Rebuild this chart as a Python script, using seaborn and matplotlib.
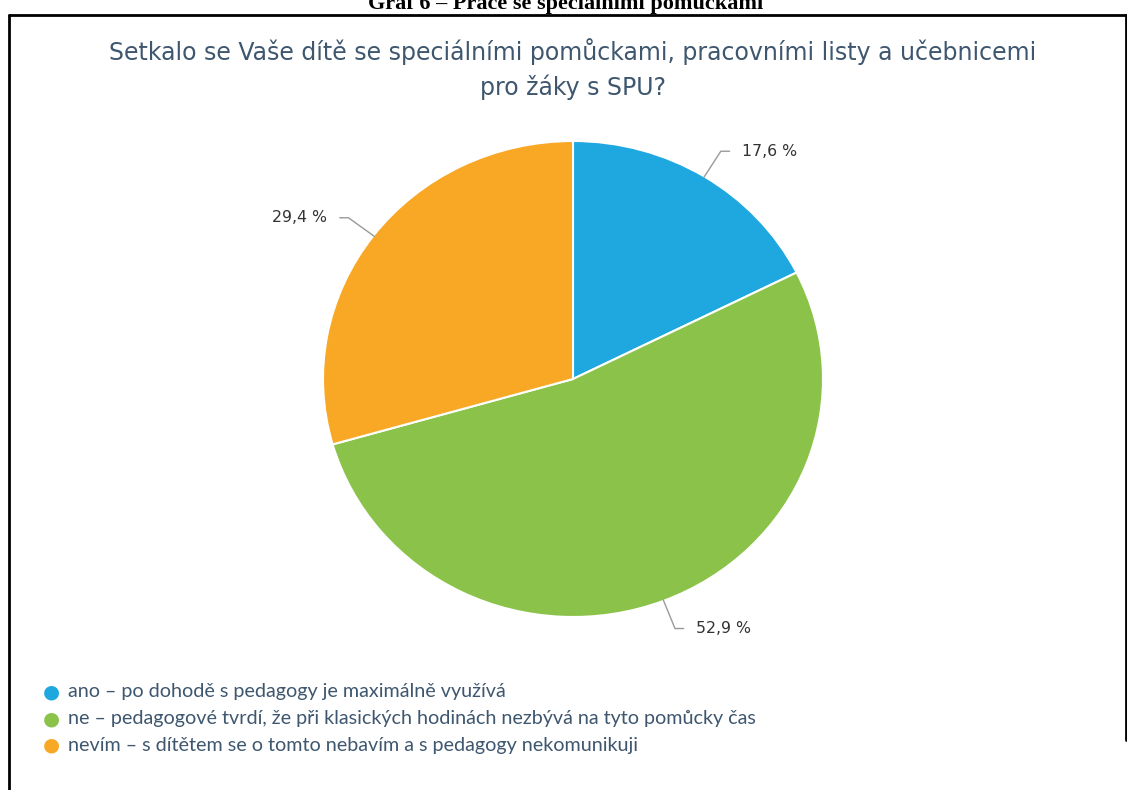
import numpy as np
import matplotlib
matplotlib.use("Agg")
import matplotlib.pyplot as plt
from matplotlib.lines import Line2D
import seaborn as sns

sns.set_theme(style="white")
plt.rcParams['font.family'] = ['DejaVu Sans']

caption = "Graf 6 – Práce se speciálními pomůckami"
title = "Setkalo se Vaše dítě se speciálními pomůckami, pracovními listy a učebnicemi\npro žáky s SPU?"
categories = [
    "ano – po dohodě s pedagogy je maximálně využívá",
    "ne – pedagogové tvrdí, že při klasických hodinách nezbývá na tyto pomůcky čas",
    "nevím – s dítětem se o tomto nebavím a s pedagogy nekomunikuji",
]
values = [17.6, 52.9, 29.4]
labels = ["17,6 %", "52,9 %", "29,4 %"]
colors = ["#1FA8E0", "#8BC34A", "#F9A825"]

W, H = 1127, 790
fig = plt.figure(figsize=(W / 100, H / 100), dpi=100)
fig.patch.set_facecolor("white")

# pie axes: centre (573,379) px, radii 250 x 238 px, limits +-1.5
cx, cy, rx, ry = 573, 379, 250, 238
ax = fig.add_axes([(cx - 1.5 * rx) / W, 1 - (cy + 1.5 * ry) / H, 3 * rx / W, 3 * ry / H])
wedges, _ = ax.pie(values, colors=colors, startangle=90, counterclock=False,
                   wedgeprops=dict(edgecolor="white", linewidth=1.5))
ax.set_aspect("auto")
ax.set_xlim(-1.5, 1.5)
ax.set_ylim(-1.5, 1.5)
ax.axis("off")

# data labels with leader lines
total = sum(values)
start = 90.0
for v, lab in zip(values, labels):
    span = v / total * 360
    mid = np.deg2rad(start - span / 2)
    start -= span
    x0, y0 = np.cos(mid), np.sin(mid)
    x1, y1 = 1.125 * x0, 1.125 * y0
    side = 1 if x0 >= 0 else -1
    x2 = x1 + side * 0.035
    ax.plot([x0 * 0.995, x1, x2], [y0 * 0.995, y1, y1], color="#999999", lw=1.0,
            solid_joinstyle="round", clip_on=False)
    ax.text(x2 + side * 0.05, y1, lab, ha="left" if side > 0 else "right", va="center",
            fontsize=11.3, color="#333333", clip_on=False)

# title
fig.text(cx / W, 1 - 69 / H, title, ha="center", va="center", fontsize=17,
         color="#3E576F", linespacing=1.45)

# legend
for i, (cat, col) in enumerate(zip(categories, colors)):
    yy = 1 - (692 + 26.5 * i) / H
    fig.text(51 / W, yy, "●", ha="center", va="center", fontsize=14, color=col)
    fig.text(68 / W, yy, cat, ha="left", va="center", fontsize=14.2,
             color="#3E576F", family=["Lato", "DejaVu Sans"])

# document caption (cropped at top, as in the source page)
fig.text(566 / W, 1 - 8.5 / H, caption, ha="center", va="baseline", fontsize=16,
         weight="bold", color="black", family=["Liberation Serif", "DejaVu Serif"])

# frame
lw = 2.0
fig.add_artist(Line2D([8.5 / W, 1125.5 / W], [1 - 14.5 / H, 1 - 14.5 / H], color="black", lw=lw))
fig.add_artist(Line2D([8.5 / W, 8.5 / W], [0, 1 - 14.5 / H], color="black", lw=lw))
fig.add_artist(Line2D([1125.5 / W, 1125.5 / W], [1 - 14.5 / H, 1 - 740 / H], color="black", lw=lw))

fig.savefig("out.png", dpi=100, facecolor="white")
